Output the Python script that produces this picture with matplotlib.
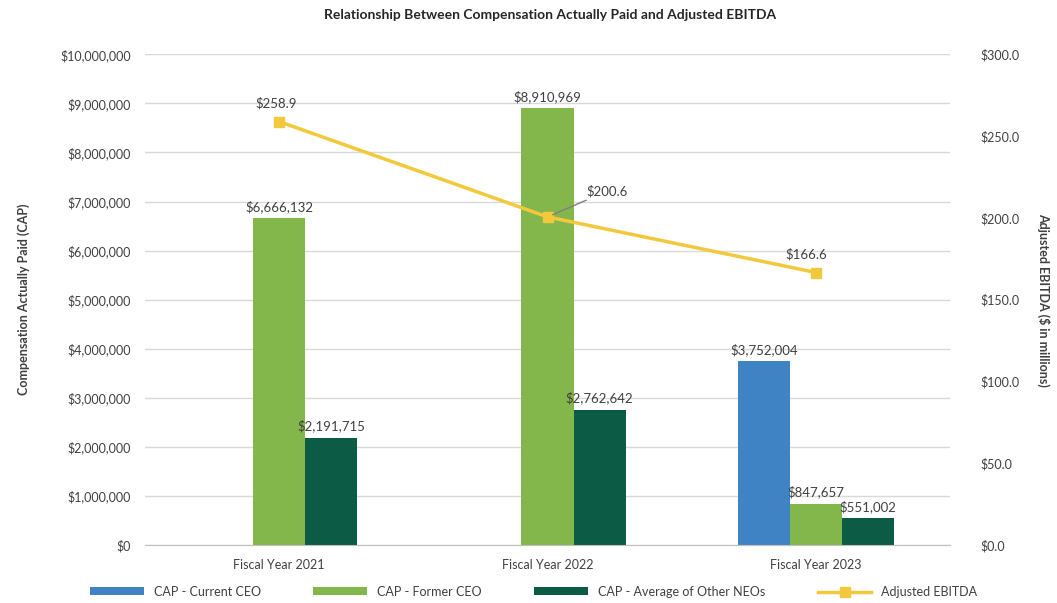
import matplotlib.pyplot as plt
import numpy as np
from matplotlib.ticker import FuncFormatter

plt.rcParams['font.family'] = ['Lato', 'DejaVu Sans']

years = ['Fiscal Year 2021', 'Fiscal Year 2022', 'Fiscal Year 2023']
cap_current = [0, 0, 3752004]
cap_former = [6666132, 8910969, 847657]
cap_other = [2191715, 2762642, 551002]
ebitda = [258.9, 200.6, 166.6]

blue = '#3F83C4'
green = '#84B74B'
dark = '#0B5B45'
yellow = '#F2C83C'
txt = '#404040'

fig = plt.figure(figsize=(10.57, 6.03), dpi=100)
ax = fig.add_axes([0.137, 0.096, 0.762, 0.814])
ax2 = ax.twinx()

x = np.arange(len(years))
w = 0.194
b1 = ax.bar(x - w, cap_current, w, color=blue, label='CAP - Current CEO', zorder=2)
b2 = ax.bar(x, cap_former, w, color=green, label='CAP - Former CEO', zorder=2)
b3 = ax.bar(x + w, cap_other, w, color=dark, label='CAP - Average of Other NEOs', zorder=2)

for bars, vals in [(b1, cap_current), (b2, cap_former), (b3, cap_other)]:
    for r, v in zip(bars, vals):
        if v > 0:
            ax.text(r.get_x() + r.get_width() / 2, v + 100000, '${:,.0f}'.format(v),
                    ha='center', va='bottom', fontsize=9.5, color=txt)

ax.set_ylim(0, 10000000)
ax.set_yticks(np.arange(0, 10000001, 1000000))
ax.yaxis.set_major_formatter(FuncFormatter(lambda v, p: '${:,.0f}'.format(v)))
ax.set_xlim(-0.5, 2.5)
ax.set_xticks(x)
ax.set_xticklabels(years)
ax.grid(axis='y', color='#D9D9D9', linewidth=1, zorder=0)
ax.set_axisbelow(True)
for s in ['top', 'left', 'right']:
    ax.spines[s].set_visible(False)
ax.spines['bottom'].set_color('#BFBFBF')
ax.tick_params(axis='both', length=0, labelsize=9, colors=txt, pad=10)
ax.set_ylabel('Compensation Actually Paid (CAP)', fontsize=9, fontweight='bold',
              color=txt, labelpad=22)

ln, = ax2.plot(x, ebitda, color=yellow, linewidth=2.5, marker='s', markersize=7,
               label='Adjusted EBITDA', zorder=3)
ax2.set_ylim(0, 300)
ax2.set_yticks(np.arange(0, 301, 50))
ax2.yaxis.set_major_formatter(FuncFormatter(lambda v, p: '${:,.1f}'.format(v)))
for s in ax2.spines.values():
    s.set_visible(False)
ax2.tick_params(axis='y', length=0, labelsize=9, colors=txt, pad=22)
ax2.set_ylabel('Adjusted EBITDA ($ in millions)', fontsize=9, fontweight='bold',
               color=txt, rotation=270, labelpad=22)

ax2.annotate('$258.9', (x[0], ebitda[0]), xytext=(-2, 9), textcoords='offset points',
             ha='center', va='bottom', fontsize=9.5, color=txt)
ax2.annotate('$200.6', (x[1], ebitda[1]), xytext=(28, 14), textcoords='offset points',
             ha='left', va='bottom', fontsize=9.5, color=txt,
             arrowprops=dict(arrowstyle='-', color='#808080', lw=1, shrinkA=0, shrinkB=4))
ax2.annotate('$166.6', (x[2], ebitda[2]), xytext=(-7, 9), textcoords='offset points',
             ha='center', va='bottom', fontsize=9.5, color=txt)

fig.suptitle('Relationship Between Compensation Actually Paid and Adjusted EBITDA',
             x=0.52, y=0.985, fontsize=10, fontweight='bold', color='#262626')

handles = [b1, b2, b3, ln]
fig.legend(handles, [h.get_label() for h in handles], loc='lower center', ncol=4,
           bbox_to_anchor=(0.505, -0.01), frameon=False, fontsize=9, columnspacing=4.2,
           handlelength=4.3, handleheight=0.6, labelcolor=txt)

fig.savefig('out.png', dpi=100)
